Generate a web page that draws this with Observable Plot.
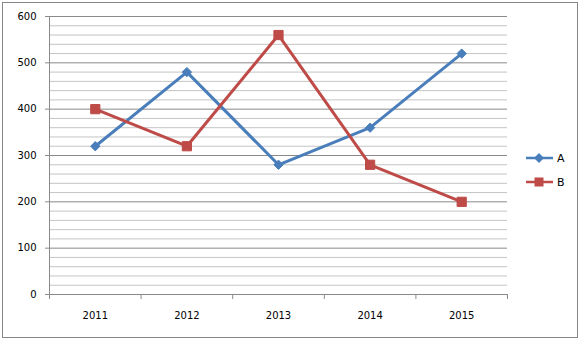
<!DOCTYPE html>
<html>
<head>
<meta charset="utf-8">
<script src="https://cdn.jsdelivr.net/npm/d3@7"></script>
<script src="https://cdn.jsdelivr.net/npm/@observablehq/plot@0.6"></script>
<style>
  html, body { margin: 0; padding: 0; background: #fff; }
  #wrap { position: relative; width: 581px; height: 341px; font-family: "DejaVu Sans", Verdana, sans-serif; }
  #frame { position: absolute; left: 2px; top: 2px; width: 576px; height: 336px; box-sizing: border-box; border: 1px solid #868686; pointer-events: none; }
  #chart { position: absolute; left: 0; top: 0; }
  #legend { position: absolute; left: 525px; top: 150px; font-size: 11px; color: #000; }
  .item { display: flex; align-items: center; height: 16px; margin-bottom: 8px; }
  .item span { margin-left: 3px; }
</style>
</head>
<body>
<div id="wrap">
  <div id="chart"></div>
  <div id="frame"></div>
  <div id="legend"></div>
</div>
<script>
const years = [2011, 2012, 2013, 2014, 2015];
const seriesA = [320, 480, 280, 360, 520];
const seriesB = [400, 320, 560, 280, 200];
const seriesNames = ["A", "B"];
const yTicks = [0, 100, 200, 300, 400, 500, 600];
const colorA = "#4A7EBB";
const colorB = "#BE4B48";

const dataA = years.map((y, i) => ({year: y, value: seriesA[i]}));
const dataB = years.map((y, i) => ({year: y, value: seriesB[i]}));
const minorTicks = d3.range(0, 601, 20).filter(v => v % 100 !== 0);
const bounds = [years[0] - 0.5, ...years.map(y => y + 0.5)];

const chart = Plot.plot({
  width: 581,
  height: 341,
  marginLeft: 49,
  marginRight: 74,
  marginTop: 16,
  marginBottom: 47,
  style: {fontFamily: "DejaVu Sans, Verdana, sans-serif", fontSize: "10px", background: "transparent", overflow: "visible"},
  x: {type: "linear", domain: [bounds[0], bounds[bounds.length - 1]], axis: null},
  y: {domain: [0, 600], axis: null},
  marks: [
    Plot.ruleY(minorTicks, {stroke: "#c4c4c4", strokeWidth: 1}),
    Plot.ruleY(yTicks, {stroke: "#8a8a8a", strokeWidth: 1}),
    Plot.ruleX([bounds[0]], {stroke: "#8a8a8a", strokeWidth: 1}),
    Plot.axisY({ticks: yTicks, tickSize: 4, tickPadding: 9, label: null, stroke: "#8a8a8a", fill: "#000", strokeOpacity: 1}),
    Plot.axisX({ticks: bounds, tickSize: 5, tickFormat: () => "", label: null, stroke: "#8a8a8a", strokeOpacity: 1}),
    Plot.axisX({ticks: years, tickSize: 0, tickPadding: 17, tickFormat: d => String(d), label: null, fill: "#000"}),
    Plot.line(dataA, {x: "year", y: "value", stroke: colorA, strokeWidth: 3}),
    Plot.line(dataB, {x: "year", y: "value", stroke: colorB, strokeWidth: 3}),
    Plot.dot(dataA, {x: "year", y: "value", symbol: "diamond2", r: 4.2, fill: colorA, stroke: colorA, strokeWidth: 1}),
    Plot.dot(dataB, {x: "year", y: "value", symbol: "square", r: 5.2, fill: colorB, stroke: colorB, strokeWidth: 1})
  ]
});
document.getElementById("chart").appendChild(chart);

const legend = document.getElementById("legend");
const colors = [colorA, colorB];
seriesNames.forEach((name, i) => {
  const item = document.createElement("div");
  item.className = "item";
  const marker = i === 0
    ? `<polygon points="14,3 19,8 14,13 9,8" fill="${colors[i]}"/>`
    : `<rect x="9.5" y="3.5" width="9" height="9" fill="${colors[i]}"/>`;
  item.innerHTML = `<svg width="29" height="16"><line x1="1" x2="28" y1="8" y2="8" stroke="${colors[i]}" stroke-width="2.5"/>${marker}</svg><span>${name}</span>`;
  legend.appendChild(item);
});
</script>
</body>
</html>
